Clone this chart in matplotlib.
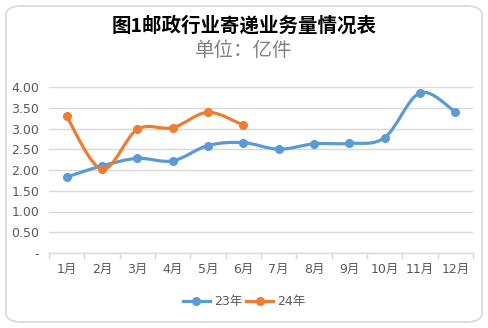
import numpy as np
import matplotlib
matplotlib.use('Agg')
import matplotlib.pyplot as plt
from matplotlib.path import Path
from matplotlib.patches import PathPatch, FancyBboxPatch
from matplotlib.lines import Line2D

plt.rcParams['font.family'] = ['DejaVu Sans', 'Noto Sans CJK SC']

# data (亿件)
months = ['1月', '2月', '3月', '4月', '5月', '6月', '7月', '8月', '9月', '10月', '11月', '12月']
y23 = [1.83, 2.10, 2.28, 2.22, 2.59, 2.66, 2.50, 2.63, 2.64, 2.78, 3.86, 3.40]
y24 = [3.29, 2.02, 2.98, 3.02, 3.39, 3.08]
yticks = [0, 0.5, 1.0, 1.5, 2.0, 2.5, 3.0, 3.5, 4.0]
ytick_labels = ['-', '0.50', '1.00', '1.50', '2.00', '2.50', '3.00', '3.50', '4.00']

c23 = '#5b9bd5'
c24 = '#ed7d31'


def smooth_path(x, y):
    # excel-like smoothed line: catmull-rom segments as cubic beziers
    x = np.asarray(x, float)
    y = np.asarray(y, float)
    verts = [(x[0], y[0])]
    codes = [Path.MOVETO]
    n = len(x)
    for i in range(n - 1):
        i0 = max(i - 1, 0)
        i3 = min(i + 2, n - 1)
        c1 = (x[i] + (x[i + 1] - x[i0]) / 6, y[i] + (y[i + 1] - y[i0]) / 6)
        c2 = (x[i + 1] - (x[i3] - x[i]) / 6, y[i + 1] - (y[i3] - y[i]) / 6)
        verts += [c1, c2, (x[i + 1], y[i + 1])]
        codes += [Path.CURVE4] * 3
    return Path(verts, codes)


fig = plt.figure(figsize=(4.88, 3.28), dpi=100)

# rounded chart border
fig.patches.append(FancyBboxPatch((6 / 488, 6 / 328), 476 / 488, 316 / 328,
                                  boxstyle='round,pad=0,rounding_size=0.03',
                                  transform=fig.transFigure, fc='white',
                                  ec='#d9d9d9', lw=1.2, zorder=-1))

ax = fig.add_axes([49 / 488, 75 / 328, 424 / 488, 166 / 328])
ax.set_facecolor('none')

x23 = np.arange(len(y23))
x24 = np.arange(len(y24))

for xs, ys, col in [(x23, y23, c23), (x24, y24, c24)]:
    ax.add_patch(PathPatch(smooth_path(xs, ys), fc='none', ec=col, lw=2.3,
                           capstyle='round', joinstyle='round', zorder=3))
    ax.plot(xs, ys, 'o', color=col, ms=5.5, zorder=4)

ax.set_xlim(-0.5, 11.5)
ax.set_ylim(0, 4.0)
ax.set_yticks(yticks)
ax.set_yticklabels(ytick_labels)
ax.set_xticks(x23)
ax.set_xticklabels(months)
ax.set_xticks(np.arange(-0.5, 12, 1), minor=True)
ax.grid(axis='y', color='#d9d9d9', lw=1)
ax.set_axisbelow(True)

for s in ['left', 'right', 'top']:
    ax.spines[s].set_visible(False)
ax.spines['bottom'].set_color('#d9d9d9')
ax.spines['bottom'].set_linewidth(1)

ax.tick_params(axis='y', length=0, pad=7, labelsize=9, labelcolor='#595959')
ax.tick_params(axis='x', which='major', length=0, pad=7, labelsize=9, labelcolor='#595959')
ax.tick_params(axis='x', which='minor', length=4, color='#d9d9d9', width=1)

fig.text(0.5, 1 - 26 / 328, '图1邮政行业寄递业务量情况表', ha='center', va='center',
         fontsize=14, fontweight='bold', color='black',
         family=['Noto Sans CJK SC', 'DejaVu Sans'])
fig.text(0.5, 1 - 50 / 328, '单位：亿件', ha='center', va='center',
         fontsize=14, color='#808080', family=['Noto Sans CJK SC', 'DejaVu Sans'])

handles = [Line2D([0], [0], color=c23, lw=2.3, marker='o', ms=5.5),
           Line2D([0], [0], color=c24, lw=2.3, marker='o', ms=5.5)]
fig.legend(handles, ['23年', '24年'], loc='center', bbox_to_anchor=(0.5, 1 - 302 / 328),
           ncol=2, frameon=False, fontsize=9, labelcolor='#595959',
           handlelength=2.2, handletextpad=0.3, columnspacing=0.3)

fig.savefig('out.png', dpi=100)
